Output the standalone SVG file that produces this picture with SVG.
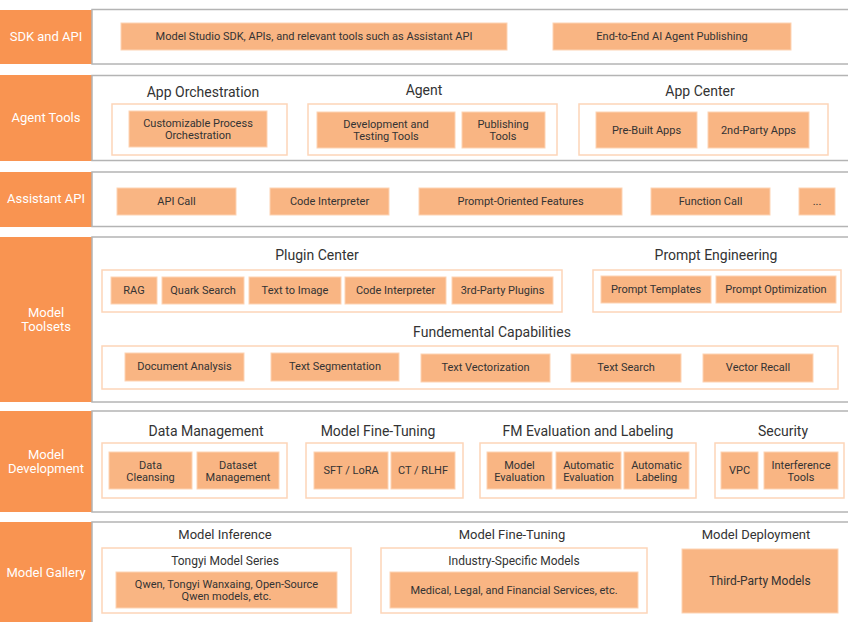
<svg xmlns="http://www.w3.org/2000/svg" width="848" height="622" viewBox="0 0 848 622">
<style>
text{font-family:Roboto,"Liberation Sans",sans-serif;fill:#333;text-anchor:middle}
.lab{fill:#F99451}
.labt{fill:#fff;font-size:13px}
.pan{fill:#fff;stroke:#b4b4b4;stroke-width:1.5}
.grp{fill:#fff;stroke:#FDD5B8;stroke-width:1.5}
.box{fill:#F9B583;stroke:#FDD3B3;stroke-width:1}
.bt{font-size:11px}
.tt{font-size:14px}
.ts{font-size:13px}
.tg{font-size:12px}
</style>
<rect width="848" height="622" fill="#fff"/>

<g id="row-sdk">
<rect class="lab" x="0" y="10" width="92" height="54"/>
<text class="labt" x="46" y="41">SDK and API</text>
<rect class="pan" x="92" y="9.5" width="760" height="54.5"/>
<g id="sdk-tools"><rect class="box" x="121" y="23" width="386" height="27"/><text class="bt" x="314" y="40">Model Studio SDK, APIs, and relevant tools such as Assistant API</text></g>
<g id="sdk-publish"><rect class="box" x="553" y="23" width="238" height="27"/><text class="bt" x="672" y="40">End-to-End AI Agent Publishing</text></g>
</g>

<g id="row-agent-tools">
<rect class="lab" x="0" y="75" width="92" height="86"/>
<text class="labt" x="46" y="122">Agent Tools</text>
<rect class="pan" x="92" y="75.5" width="760" height="85"/>
<g id="app-orchestration">
<text class="tt" x="203" y="97">App Orchestration</text>
<rect class="grp" x="112" y="104" width="175" height="51"/>
<rect class="box" x="129" y="111" width="138" height="36"/>
<text class="bt" x="198" y="126.5">Customizable Process</text>
<text class="bt" x="198" y="138.5">Orchestration</text>
</g>
<g id="agent">
<text class="tt" x="424" y="95">Agent</text>
<rect class="grp" x="308" y="104" width="249" height="51"/>
<rect class="box" x="317" y="112" width="138" height="36"/>
<text class="bt" x="386" y="127.5">Development and</text>
<text class="bt" x="386" y="139.5">Testing Tools</text>
<rect class="box" x="462" y="112" width="83" height="36"/>
<text class="bt" x="503" y="127.5">Publishing</text>
<text class="bt" x="503" y="139.5">Tools</text>
</g>
<g id="app-center">
<text class="tt" x="700" y="96">App Center</text>
<rect class="grp" x="579" y="104" width="249" height="51"/>
<rect class="box" x="596" y="112" width="101" height="36"/>
<text class="bt" x="646.5" y="134">Pre-Built Apps</text>
<rect class="box" x="708" y="112" width="101" height="36"/>
<text class="bt" x="758.5" y="134">2nd-Party Apps</text>
</g>
</g>

<g id="row-assistant-api">
<rect class="lab" x="0" y="172" width="92" height="55"/>
<text class="labt" x="46" y="203">Assistant API</text>
<rect class="pan" x="92" y="172" width="760" height="54.5"/>
<g id="api-call"><rect class="box" x="117" y="188" width="119" height="27"/><text class="bt" x="176.5" y="205">API Call</text></g>
<g id="code-interp-api"><rect class="box" x="270" y="188" width="119" height="27"/><text class="bt" x="329.5" y="205">Code Interpreter</text></g>
<g id="prompt-oriented"><rect class="box" x="419" y="188" width="203" height="27"/><text class="bt" x="520.5" y="205">Prompt-Oriented Features</text></g>
<g id="function-call"><rect class="box" x="651" y="188" width="119" height="27"/><text class="bt" x="710.5" y="205">Function Call</text></g>
<g id="more"><rect class="box" x="799" y="188" width="36" height="27"/><text class="bt" x="817" y="205">...</text></g>
</g>

<g id="row-model-toolsets">
<rect class="lab" x="0" y="237" width="92" height="165"/>
<text class="labt" x="46" y="316.5">Model</text>
<text class="labt" x="46" y="330.5">Toolsets</text>
<rect class="pan" x="92" y="237" width="760" height="165"/>
<g id="plugin-center">
<text class="tt" x="317" y="260">Plugin Center</text>
<rect class="grp" x="102" y="270" width="460" height="42"/>
<rect class="box" x="111" y="277" width="46" height="27"/><text class="bt" x="134" y="294">RAG</text>
<rect class="box" x="162" y="277" width="82" height="27"/><text class="bt" x="203" y="294">Quark Search</text>
<rect class="box" x="249" y="277" width="92" height="27"/><text class="bt" x="295" y="294">Text to Image</text>
<rect class="box" x="345" y="277" width="101" height="27"/><text class="bt" x="395.5" y="294">Code Interpreter</text>
<rect class="box" x="452" y="277" width="101" height="27"/><text class="bt" x="502.5" y="294">3rd-Party Plugins</text>
</g>
<g id="prompt-engineering">
<text class="tt" x="716" y="260">Prompt Engineering</text>
<rect class="grp" x="593" y="270" width="248" height="42"/>
<rect class="box" x="601" y="276" width="110" height="27"/><text class="bt" x="656" y="293">Prompt Templates</text>
<rect class="box" x="716" y="276" width="120" height="27"/><text class="bt" x="776" y="293">Prompt Optimization</text>
</g>
<g id="fundamental-capabilities">
<text class="tt" x="492" y="337">Fundemental Capabilities</text>
<rect class="grp" x="102" y="346" width="736" height="43"/>
<rect class="box" x="125" y="353" width="119" height="28"/><text class="bt" x="184.5" y="370">Document Analysis</text>
<rect class="box" x="271" y="353" width="128" height="28"/><text class="bt" x="335" y="370">Text Segmentation</text>
<rect class="box" x="421" y="354" width="129" height="28"/><text class="bt" x="485.5" y="371">Text Vectorization</text>
<rect class="box" x="571" y="354" width="110" height="28"/><text class="bt" x="626" y="371">Text Search</text>
<rect class="box" x="703" y="354" width="110" height="28"/><text class="bt" x="758" y="371">Vector Recall</text>
</g>
</g>

<g id="row-model-development">
<rect class="lab" x="0" y="411" width="92" height="101"/>
<text class="labt" x="46" y="459">Model</text>
<text class="labt" x="46" y="473">Development</text>
<rect class="pan" x="92" y="411" width="760" height="101"/>
<g id="data-management">
<text class="tt" x="206" y="436">Data Management</text>
<rect class="grp" x="102" y="443" width="185" height="55"/>
<rect class="box" x="109" y="452" width="83" height="37"/><text class="bt" x="150.5" y="468.5">Data</text><text class="bt" x="150.5" y="480.5">Cleansing</text>
<rect class="box" x="197" y="452" width="82" height="37"/><text class="bt" x="238" y="468.5">Dataset</text><text class="bt" x="238" y="480.5">Management</text>
</g>
<g id="model-fine-tuning-dev">
<text class="tt" x="378" y="436">Model Fine-Tuning</text>
<rect class="grp" x="306" y="443" width="157" height="55"/>
<rect class="box" x="314" y="452" width="74" height="37"/><text class="bt" x="351" y="474">SFT / LoRA</text>
<rect class="box" x="391" y="452" width="64" height="37"/><text class="bt" x="423" y="474">CT / RLHF</text>
</g>
<g id="fm-evaluation">
<text class="tt" x="588" y="436">FM Evaluation and Labeling</text>
<rect class="grp" x="480" y="443" width="216" height="55"/>
<rect class="box" x="487" y="452" width="65" height="37"/><text class="bt" x="519.5" y="468.5">Model</text><text class="bt" x="519.5" y="480.5">Evaluation</text>
<rect class="box" x="556" y="452" width="65" height="37"/><text class="bt" x="588.5" y="468.5">Automatic</text><text class="bt" x="588.5" y="480.5">Evaluation</text>
<rect class="box" x="624" y="452" width="65" height="37"/><text class="bt" x="656.5" y="468.5">Automatic</text><text class="bt" x="656.5" y="480.5">Labeling</text>
</g>
<g id="security">
<text class="tt" x="783" y="436">Security</text>
<rect class="grp" x="715" y="443" width="129" height="55"/>
<rect class="box" x="721" y="452" width="37" height="37"/><text class="bt" x="739.5" y="474">VPC</text>
<rect class="box" x="764" y="452" width="74" height="37"/><text class="bt" x="801" y="468.5">Interference</text><text class="bt" x="801" y="480.5">Tools</text>
</g>
</g>

<g id="row-model-gallery">
<rect class="lab" x="0" y="522" width="92" height="100"/>
<text class="labt" x="46" y="577">Model Gallery</text>
<rect class="pan" x="92" y="522" width="760" height="104"/>
<g id="model-inference">
<text class="ts" x="225" y="539">Model Inference</text>
<rect class="grp" x="102" y="548" width="249" height="65"/>
<text class="tg" x="225" y="565">Tongyi Model Series</text>
<rect class="box" x="116" y="572" width="221" height="36"/>
<text class="bt" x="226.5" y="587.5">Qwen, Tongyi Wanxaing, Open-Source</text>
<text class="bt" x="226.5" y="599.5">Qwen models, etc.</text>
</g>
<g id="model-fine-tuning-gallery">
<text class="ts" x="512" y="539">Model Fine-Tuning</text>
<rect class="grp" x="381" y="548" width="266" height="65"/>
<text class="tg" x="514" y="565">Industry-Specific Models</text>
<rect class="box" x="390" y="572" width="248" height="36"/>
<text class="bt" x="514" y="594">Medical, Legal, and Financial Services, etc.</text>
</g>
<g id="model-deployment">
<text class="ts" x="756" y="539">Model Deployment</text>
<rect class="box" x="682" y="549" width="156" height="64"/>
<text class="tg" x="760" y="585">Third-Party Models</text>
</g>
</g>
<g id="connectors"/>
</svg>
